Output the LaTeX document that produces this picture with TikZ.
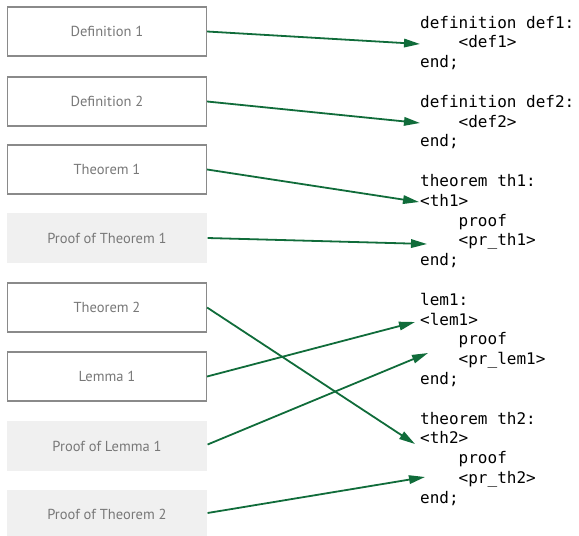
\documentclass[tikz,border=0pt]{standalone}
\usepackage{fontspec}
\setmainfont{PT Sans}
\newfontfamily\codefont{DejaVu Sans Mono}
\usetikzlibrary{arrows.meta}
\definecolor{arrowgreen}{RGB}{16,108,58}
\definecolor{boxtext}{RGB}{120,120,120}
\definecolor{boxline}{RGB}{138,138,138}
\definecolor{prooffill}{RGB}{240,240,240}
\newcommand{\ind}{\hphantom{xxxx}}
\tikzset{
  itembox/.style={draw=boxline, line width=1.2pt, fill=white, minimum width=199pt, minimum height=49pt,
    inner sep=0pt, text=boxtext, font=\fontsize{14.5}{16}\selectfont},
  proofbox/.style={itembox, draw=none, fill=prooffill, minimum width=200pt, minimum height=50pt},
  codeblock/.style={anchor=base west, inner sep=0pt, align=left, font=\codefont\fontsize{16}{19.8}\selectfont},
  link/.style={draw=arrowgreen, line width=1.8pt, -{Triangle[length=16pt,width=8.5pt]}}
}
\begin{document}
\begin{tikzpicture}[x=1pt,y=-1pt]
\useasboundingbox (0,0) rectangle (579,536);
% left boxes
\node[itembox]  (d1)  at (107,31.5)  {Definition 1};
\node[itembox]  (d2)  at (107,101.5) {Definition 2};
\node[itembox]  (t1)  at (107,169.5) {Theorem 1};
\node[proofbox] (p1)  at (107,238)   {Proof of Theorem 1};
\node[itembox]  (t2)  at (107,307.5) {Theorem 2};
\node[itembox]  (l1)  at (107,376.5) {Lemma 1};
\node[proofbox] (pl1) at (107,446)   {Proof of Lemma 1};
\node[proofbox] (p2)  at (107,514.5) {Proof of Theorem 2};
% code blocks (anchored at the baseline of their last line)
\node[codeblock] (c1) at (420,67.6) {definition def1:\\\ind<def1>\\end;};
\node[codeblock] (c2) at (420,146.8) {definition def2:\\\ind<def2>\\end;};
\node[codeblock] (c3) at (420,265.6) {theorem th1:\\<th1>\\\ind proof\\\ind<pr\_th1>\\end;};
\node[codeblock] (c4) at (420,384.4) {lem1:\\<lem1>\\\ind proof\\\ind<pr\_lem1>\\end;};
\node[codeblock] (c5) at (420,503.2) {theorem th2:\\<th2>\\\ind proof\\\ind<pr\_th2>\\end;};
% arrow targets
\coordinate (e1) at (420,44);
\coordinate (e2) at (420,123);
\coordinate (e3) at (419,202);
\coordinate (e4) at (427,244);
\coordinate (e5) at (415,444);
\coordinate (e6) at (415,322);
\coordinate (e7) at (428,353);
\coordinate (e8) at (425,477);
% connectors
\draw[link] (d1.east) -- (e1);
\draw[link] (d2.east) -- (e2);
\draw[link] (t1.east) -- (e3);
\draw[link] (p1.east) -- (e4);
\draw[link] (t2.east) -- (e5);
\draw[link] (l1.east) -- (e6);
\draw[link] ([yshift=1.5pt]pl1.east) -- (e7);
\draw[link] ([yshift=1.5pt]p2.east) -- (e8);
\end{tikzpicture}
\end{document}
